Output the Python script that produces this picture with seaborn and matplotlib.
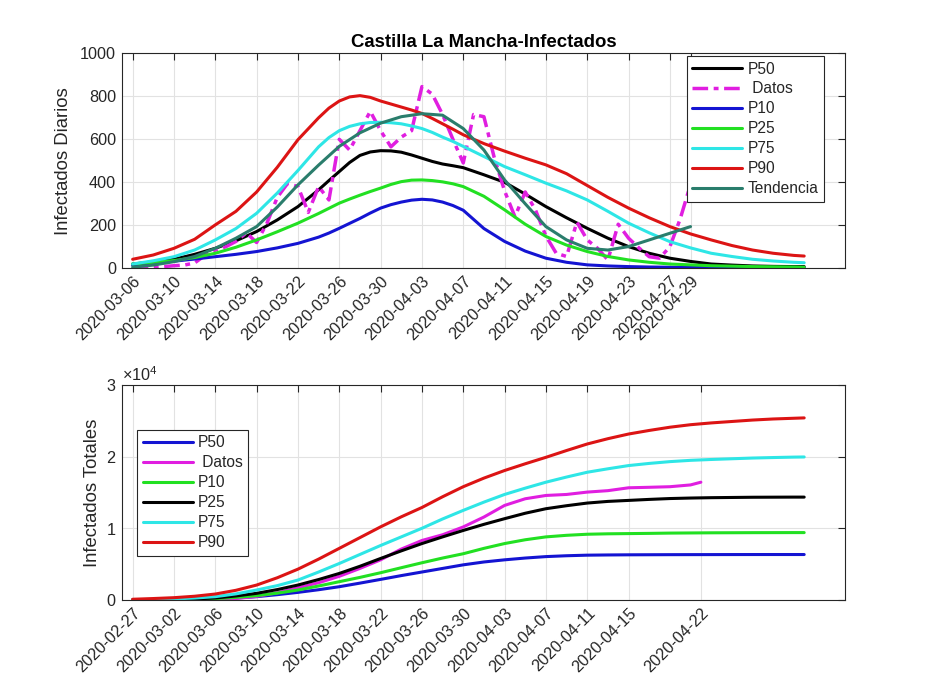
import numpy as np
import pandas as pd
import matplotlib
matplotlib.use("Agg")
import matplotlib.pyplot as plt
import seaborn as sns

# ---------------- data: top panel (days since 2020-03-06) ----------------
top_start = "2020-03-06"
top_curve_days = [0, 2, 4, 6, 8, 10, 12, 14, 16, 18, 19, 20, 21, 22, 23, 24, 25, 26, 27, 28,
                  29, 30, 31, 32, 34, 36, 38, 40, 42, 44, 46, 48, 50, 52, 54, 56, 58, 60,
                  62, 64, 65]
top_p50 = [20, 30, 42, 65, 93, 128, 171, 225, 287, 365, 408, 450, 492, 525, 541, 547, 546,
           540, 527, 512, 497, 485, 477, 468, 435, 400, 345, 287, 235, 186, 140, 101, 70, 47,
           32, 20, 15, 11, 9, 8, 8]
top_p10 = [14, 24, 33, 43, 54, 65, 78, 95, 116, 145, 164, 186, 209, 232, 257, 280, 296, 308,
           317, 321, 318, 308, 292, 270, 185, 125, 80, 47, 28, 16, 11, 8, 6, 5, 4, 3, 3, 3,
           3, 3, 3]
top_p25 = [20, 28, 36, 50, 70, 98, 132, 170, 210, 255, 279, 303, 322, 340, 357, 373, 390, 403,
           410, 411, 408, 402, 393, 380, 335, 272, 205, 148, 108, 78, 55, 39, 28, 20, 16, 12,
           10, 8, 7, 6, 5]
top_p75 = [20, 35, 54, 85, 132, 185, 256, 350, 455, 565, 608, 640, 660, 672, 678, 679, 677,
           672, 662, 650, 632, 610, 590, 567, 520, 473, 435, 396, 360, 318, 265, 210, 165, 124,
           95, 70, 55, 42, 34, 28, 26]
top_p90 = [42, 62, 93, 135, 202, 265, 355, 470, 598, 700, 745, 778, 797, 803, 795, 778, 764,
           750, 736, 720, 697, 672, 647, 621, 580, 545, 512, 481, 440, 385, 330, 280, 235, 194,
           160, 132, 106, 85, 70, 60, 57]
trend_days = [0, 2, 4, 6, 8, 10, 12, 14, 16, 18, 20, 22, 24, 26, 28, 30, 32, 34, 36, 38,
              40, 42, 44, 46, 48, 50, 52, 54]
trend_vals = [5, 15, 31, 55, 93, 140, 194, 285, 388, 480, 567, 630, 675, 705, 719, 712, 650,
              550, 411, 300, 194, 132, 93, 85, 101, 132, 163, 194]
datos_daily = [0, 2, 4, 8, 12, 15, 25, 60, 85, 100, 125, 165, 120, 210, 330, 395, 380, 260,
               380, 318, 600, 550, 640, 730, 640, 565, 610, 640, 845, 810, 715, 600, 490,
               715, 705, 515, 360, 240, 355, 270, 150, 70, 55, 215, 132, 93, 39, 205, 140,
               95, 54, 47, 100, 230, 390]
top_tick_labels = ["2020-03-06", "2020-03-10", "2020-03-14", "2020-03-18", "2020-03-22",
                   "2020-03-26", "2020-03-30", "2020-04-03", "2020-04-07", "2020-04-11",
                   "2020-04-15", "2020-04-19", "2020-04-23", "2020-04-27", "2020-04-29"]

# ---------------- data: bottom panel (days since 2020-02-27) ----------------
bot_start = "2020-02-27"
bot_curve_days = [0, 2, 4, 6, 8, 10, 12, 14, 16, 18, 20, 22, 24, 26, 28, 30, 32,
                  34, 36, 38, 40, 42, 44, 46, 48, 50, 52, 54, 56, 58, 60, 62, 64, 65]
bot_blue = [0, 4, 10, 60, 140, 280, 460, 740, 1060, 1430, 1850, 2350, 2870, 3400, 3900, 4400,
            4900, 5300, 5600, 5850, 6050, 6170, 6250, 6280, 6300, 6310, 6320, 6325, 6330, 6335,
            6338, 6340, 6340, 6340]
bot_green = [0, 8, 20, 80, 185, 360, 600, 950, 1390, 1950, 2550, 3150, 3800, 4500, 5190, 5850,
             6450, 7200, 7870, 8400, 8800, 9020, 9170, 9230, 9260, 9290, 9330, 9350, 9370, 9380,
             9390, 9395, 9400, 9400]
bot_black = [0, 20, 46, 140, 278, 560, 926, 1450, 2083, 2850, 3700, 4700, 5790, 6850, 7870, 8800,
             9700, 10550, 11340, 12100, 12730, 13150, 13520, 13750, 13890, 14030, 14150, 14220,
             14270, 14300, 14330, 14340, 14350, 14350]
bot_cyan = [0, 60, 140, 270, 460, 850, 1390, 2000, 2780, 3900, 5090, 6350, 7600, 8800, 10000,
            11300, 12500, 13650, 14720, 15600, 16430, 17150, 17820, 18300, 18750, 19050, 19300,
            19480, 19600, 19700, 19800, 19870, 19930, 19950]
bot_red = [100, 200, 320, 520, 830, 1350, 2080, 3100, 4300, 5700, 7200, 8700, 10200, 11600,
           12900, 14400, 15800, 17000, 18060, 19000, 19900, 20850, 21760, 22500, 23150, 23650,
           24100, 24450, 24700, 24900, 25100, 25250, 25350, 25400]
bot_datos_days = [0, 2, 4, 6, 8, 10, 12, 14, 16, 18, 20, 22, 24, 26, 28, 30, 32, 34, 36, 38,
                  40, 42, 44, 46, 48, 50, 52, 54, 55]
bot_datos = [0, 0, 10, 30, 60, 200, 500, 1000, 1700, 2400, 3300, 4400, 5600, 7100, 8300, 9100,
             10190, 11570, 13190, 14120, 14580, 14720, 15050, 15250, 15650, 15720, 15800, 16050,
             16430]
bot_tick_labels = ["2020-02-27", "2020-03-02", "2020-03-06", "2020-03-10", "2020-03-14",
                   "2020-03-18", "2020-03-22", "2020-03-26", "2020-03-30", "2020-04-03",
                   "2020-04-07", "2020-04-11", "2020-04-15", "2020-04-22"]

# ---------------- style ----------------
sns.set_style("white")
plt.rcParams['font.family'] = ['Liberation Sans', 'DejaVu Sans']
plt.rcParams['mathtext.fontset'] = 'custom'
plt.rcParams['mathtext.rm'] = 'Liberation Sans'
plt.rcParams['lines.solid_joinstyle'] = 'round'
plt.rcParams['lines.solid_capstyle'] = 'round'
DARK = '#262626'
C_BLACK, C_MAG, C_BLUE = '#000000', '#e01ee0', '#1414d2'
C_GREEN, C_CYAN, C_RED, C_TEAL = '#22e022', '#2ee6e6', '#dc1414', '#2a7d6c'
LW = 2.2


def dates(start, days):
    return pd.Timestamp(start) + pd.to_timedelta(np.asarray(days, dtype=float), unit='D')


fig = plt.figure(figsize=(9.34, 7.0), dpi=100)
ax1 = fig.add_axes([0.1303, 0.6167, 0.7744, 0.3072])
ax2 = fig.add_axes([0.1303, 0.1429, 0.7744, 0.3072])

# ---- top panel
td = dates(top_start, top_curve_days)
sns.lineplot(x=td, y=top_p50, ax=ax1, color=C_BLACK, lw=LW, label='P50')
sns.lineplot(x=dates(top_start, range(len(datos_daily))), y=datos_daily, ax=ax1, color=C_MAG,
             lw=2.5, linestyle=(0, (4.5, 1.6, 1.4, 1.6)), dash_joinstyle='round',
             label=' Datos')
sns.lineplot(x=td, y=top_p10, ax=ax1, color=C_BLUE, lw=LW, label='P10')
sns.lineplot(x=td, y=top_p25, ax=ax1, color=C_GREEN, lw=LW, label='P25')
sns.lineplot(x=td, y=top_p75, ax=ax1, color=C_CYAN, lw=LW, label='P75')
sns.lineplot(x=td, y=top_p90, ax=ax1, color=C_RED, lw=LW, label='P90')
sns.lineplot(x=dates(top_start, trend_days), y=trend_vals, ax=ax1, color=C_TEAL, lw=LW,
             label='Tendencia')

# ---- bottom panel
bd = dates(bot_start, bot_curve_days)
sns.lineplot(x=bd, y=bot_blue, ax=ax2, color=C_BLUE, lw=LW, label='P50')
sns.lineplot(x=dates(bot_start, bot_datos_days), y=bot_datos, ax=ax2, color=C_MAG, lw=LW,
             label=' Datos')
sns.lineplot(x=bd, y=bot_green, ax=ax2, color=C_GREEN, lw=LW, label='P10')
sns.lineplot(x=bd, y=bot_black, ax=ax2, color=C_BLACK, lw=LW, label='P25')
sns.lineplot(x=bd, y=bot_cyan, ax=ax2, color=C_CYAN, lw=LW, label='P75')
sns.lineplot(x=bd, y=bot_red, ax=ax2, color=C_RED, lw=LW, label='P90')

# ---- axes formatting
for ax, start, labels in ((ax1, top_start, top_tick_labels), (ax2, bot_start, bot_tick_labels)):
    s = pd.Timestamp(start)
    ax.set_xlim(s - pd.Timedelta(days=1.06), s + pd.Timedelta(days=68.95))
    ax.set_xticks(pd.to_datetime(labels))
    ax.set_xticklabels(labels, rotation=45, ha='right', rotation_mode='anchor')
    ax.set_xlabel('')
    ax.grid(True, color='#e2e2e2', lw=0.8)
    ax.set_axisbelow(True)
    ax.tick_params(direction='in', length=5, width=0.8, top=True, right=True,
                   labeltop=False, labelright=False, colors=DARK, labelsize=11.7, pad=4)
    for sp in ax.spines.values():
        sp.set_visible(True)
        sp.set_color(DARK)
        sp.set_linewidth(0.8)

ax1.set_ylim(0, 1000)
ax1.set_yticks([0, 200, 400, 600, 800, 1000])
ax2.set_ylim(0, 30000)
ax2.set_yticks([0, 10000, 20000, 30000])
ax2.ticklabel_format(axis='y', style='sci', scilimits=(0, 0), useMathText=True)
ax2.yaxis.get_offset_text().set_fontsize(11.7)
ax2.yaxis.get_offset_text().set_color(DARK)

ax1.set_title('Castilla La Mancha-Infectados', fontsize=13.4, fontweight='bold', pad=4.5,
              color='black')
ax1.set_ylabel('Infectados Diarios', fontsize=13.3, color=DARK)
ax1.yaxis.set_label_coords(-0.0684, 0.5)
ax2.set_ylabel('Infectados Totales', fontsize=13.3, color=DARK)
ax2.yaxis.set_label_coords(-0.0283, 0.5)

leg_kw = dict(frameon=True, fancybox=False, edgecolor=DARK, framealpha=1, fontsize=11.2,
              handlelength=3.2, handletextpad=0.35, labelspacing=0.32, borderpad=0.35,
              borderaxespad=0)
h, l = ax1.get_legend_handles_labels()
lg1 = ax1.legend(h, l, loc='upper right', bbox_to_anchor=(0.971, 0.987), **leg_kw)
lg1.get_frame().set_linewidth(0.8)
h, l = ax2.get_legend_handles_labels()
lg2 = ax2.legend(h, l, loc='upper left', bbox_to_anchor=(0.0216, 0.791), **leg_kw)
lg2.get_frame().set_linewidth(0.8)

fig.savefig('out.png', dpi=100, facecolor='white')
